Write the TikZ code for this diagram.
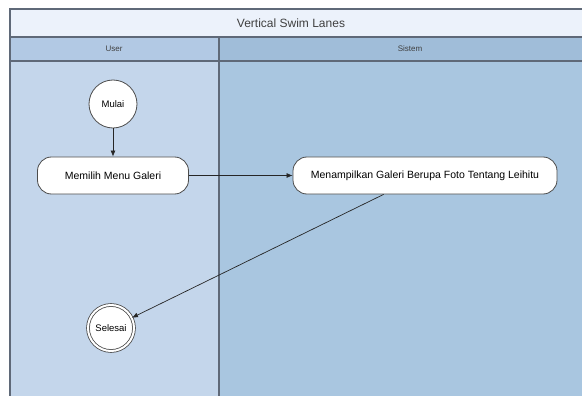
\documentclass[tikz,border=0pt]{standalone}
\usepackage{fontspec}
\setmainfont{Liberation Sans}
\usepackage{tikz}
\usetikzlibrary{arrows.meta}

\definecolor{titlefill}{RGB}{236,242,251}
\definecolor{userhead}{RGB}{178,201,228}
\definecolor{userlane}{RGB}{196,214,235}
\definecolor{sysheead}{RGB}{160,189,217}
\definecolor{syslane}{RGB}{169,198,224}
\definecolor{laneline}{RGB}{95,105,120}

\begin{document}
\begin{tikzpicture}[x=1pt, y=-1pt,
    state/.style={draw=black!70, line width=0.8pt, fill=white, rounded corners=14pt, minimum height=37pt, font=\fontsize{10.5}{12}\selectfont},
    startend/.style={draw=black!70, line width=0.8pt, fill=white, circle, inner sep=0pt, font=\fontsize{9.5}{11}\selectfont},
    flow/.style={-{Latex[length=6pt,width=5pt]}, draw=black!85, line width=0.7pt}]
      \clip (0,0) rectangle (582,396);
      \fill[white] (0,0) rectangle (582,396);
      % swim lanes
      \draw[laneline, line width=1.2pt, fill=titlefill] (10,9) rectangle (600,37);
      \draw[laneline, line width=1.2pt, fill=userhead] (10,37) rectangle (219,61);
      \draw[laneline, line width=1.2pt, fill=sysheead] (219,37) rectangle (600,61);
      \draw[laneline, line width=1.2pt, fill=userlane] (10,61) rectangle (219,420);
      \draw[laneline, line width=1.2pt, fill=syslane] (219,61) rectangle (600,420);
      \node[text=black!75, font=\fontsize{12}{14}\selectfont] at (291,23) {Vertical Swim Lanes};
      \node[text=black!75, font=\fontsize{8}{9}\selectfont] at (114,49) {User};
      \node[text=black!75, font=\fontsize{8}{9}\selectfont] at (410,49) {Sistem};
      % nodes
      \node[startend, minimum size=48pt] (mulai) at (113,104) {Mulai};
      \node[state, minimum width=151pt] (memilih) at (113,175.5) {Memilih Menu Galeri};
      \node[state, minimum width=264pt] (tampil) at (425,175.5) {Menampilkan Galeri Berupa Foto Tentang Leihitu};
      \node[startend, minimum size=46pt, double=white, double distance=2pt] (selesai) at (111,328) {Selesai};
      % alur
      \draw[flow] (mulai) -- (memilih);
      \draw[flow] (memilih) -- (tampil);
      \coordinate (keluar) at ([xshift=91pt]tampil.south west);
      \draw[flow] (keluar) -- (selesai);
\end{tikzpicture}
\end{document}
